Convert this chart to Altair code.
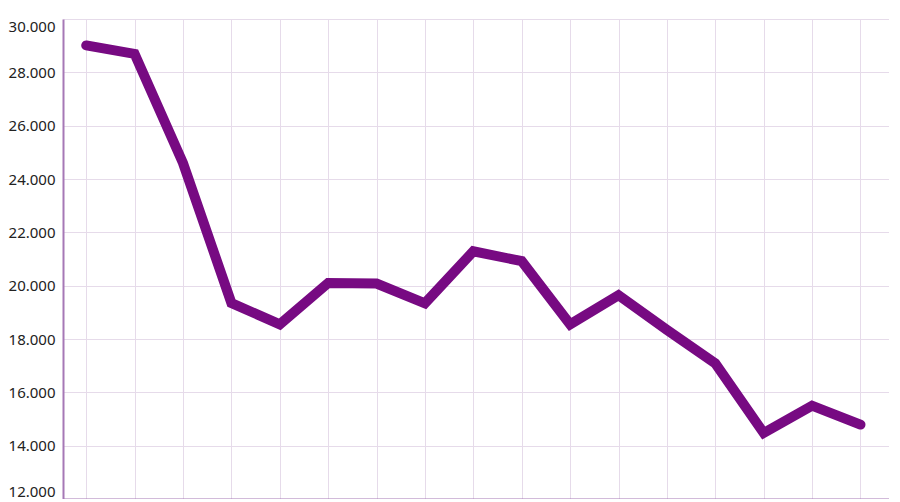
import altair as alt
import pandas as pd

x_index = list(range(17))
values = [29010, 28690, 24600, 19350, 18550, 20100, 20080, 19340, 21290,
          20920, 18550, 19640, 18340, 17085, 14475, 15500, 14790]
y_ticks = [12000, 14000, 16000, 18000, 20000, 22000, 24000, 26000, 28000, 30000]

df = pd.DataFrame({"i": x_index, "v": values})

chart = alt.Chart(df).mark_line(
    color="#770a82", strokeWidth=10, strokeCap="round", strokeJoin="miter"
).encode(
    x=alt.X("i:Q", scale=alt.Scale(domain=[-0.48, 16.59], nice=False, zero=False),
            axis=alt.Axis(values=x_index, labels=False, ticks=False, title=None,
                          grid=True, gridColor="#e6dbea", gridWidth=1,
                          domainColor="#a678b6", domainWidth=2)),
    y=alt.Y("v:Q", scale=alt.Scale(domain=[12000, 30000], nice=False, zero=False),
            axis=alt.Axis(values=y_ticks, title=None, ticks=False, labelFlush=True,
                          labelExpr="replace(format(datum.value, ',.0f'), ',', '.')",
                          labelFont="Noto Sans", labelFontSize=15, labelColor="#222222",
                          labelPadding=8, grid=True, gridColor="#e6dbea", gridWidth=1,
                          domainColor="#a678b6", domainWidth=2)),
).properties(
    width=826, height=480,
    padding={"left": 0, "top": 11, "right": 0, "bottom": 0},
).configure_view(stroke=None)

chart.save("out.html", embed_options={"renderer": "svg", "actions": False})
